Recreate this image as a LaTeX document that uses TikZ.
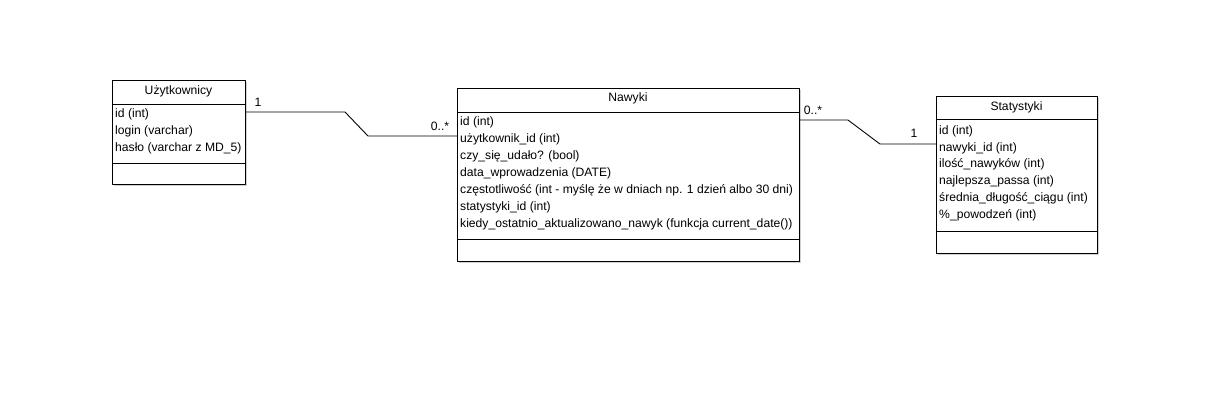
\documentclass[tikz,border=0pt]{standalone}
\usepackage{fontspec}
\setmainfont{Liberation Sans}
\usetikzlibrary{positioning}

\tikzset{
  klasa/.style={draw=black,fill=white,line width=0.9bp,anchor=north west,inner sep=0pt},
  cien/.style={fill=black!18,draw=none,anchor=north west,inner sep=0pt},
  atrybut/.style={anchor=west,inner sep=0pt,font=\fontsize{12.2}{14}\selectfont},
  naglowek/.style={inner sep=0pt,font=\fontsize{12.2}{14}\selectfont},
  krotnosc/.style={inner sep=0pt,font=\fontsize{12.2}{14}\selectfont},
}

\begin{document}
\begin{tikzpicture}[x=1bp,y=-1bp,line join=bevel]
\useasboundingbox (0,0) rectangle (1210,405);
%%
\node (cien_uz) at (114,82) [cien,minimum width=133bp,minimum height=104bp] {};
\node (uzytkownicy) at (112,80) [klasa,minimum width=133bp,minimum height=104bp] {};
\draw [black,line width=0.9bp] (112,104) -- (245,104);
\draw [black,line width=0.9bp] (112,163) -- (245,163);
\node (uz_nazwa) at (178.5,91) [naglowek] {Użytkownicy};
\node (uz_1) at (115,114) [atrybut] {id (int)};
\node (uz_2) at (115,131) [atrybut] {login (varchar)};
\node (uz_3) at (115,148) [atrybut] {hasło (varchar z MD\_5)};
%
\node (cien_na) at (459,90) [cien,minimum width=342bp,minimum height=173bp] {};
\node (nawyki) at (457,88) [klasa,minimum width=342bp,minimum height=173bp] {};
\draw [black,line width=0.9bp] (457,112) -- (799,112);
\draw [black,line width=0.9bp] (457,239) -- (799,239);
\node (na_nazwa) at (628,98) [naglowek] {Nawyki};
\node (na_1) at (460,122) [atrybut] {id (int)};
\node (na_2) at (460,139) [atrybut] {użytkownik\_id (int)};
\node (na_3) at (460,156) [atrybut] {czy\_się\_udało? (bool)};
\node (na_4) at (460,173) [atrybut] {data\_wprowadzenia (DATE)};
\node (na_5) at (460,190) [atrybut] {częstotliwość (int - myślę że w dniach np. 1 dzień albo 30 dni)};
\node (na_6) at (460,207) [atrybut] {statystyki\_id (int)};
\node (na_7) at (460,224) [atrybut] {kiedy\_ostatnio\_aktualizowano\_nawyk (funkcja current\_date())};
%
\node (cien_st) at (938,98) [cien,minimum width=161bp,minimum height=157bp] {};
\node (statystyki) at (936,96) [klasa,minimum width=161bp,minimum height=157bp] {};
\draw [black,line width=0.9bp] (936,119) -- (1097,119);
\draw [black,line width=0.9bp] (936,231) -- (1097,231);
\node (st_nazwa) at (1016.5,107) [naglowek] {Statystyki};
\node (st_1) at (939,131) [atrybut] {id (int)};
\node (st_2) at (939,148) [atrybut] {nawyki\_id (int)};
\node (st_3) at (939,164) [atrybut] {ilość\_nawyków (int)};
\node (st_4) at (939,181) [atrybut] {najlepsza\_passa (int)};
\node (st_5) at (939,198) [atrybut] {średnia\_długość\_ciągu (int)};
\node (st_6) at (939,215) [atrybut] {\%\_powodzeń (int)};
%%
\coordinate (uz_wyj) at (245,112);
\coordinate (na_wej) at (457,136);
\coordinate (na_wyj) at (799,120);
\coordinate (st_wej) at (936,144);
\draw [black,line width=0.9bp] (uz_wyj) -- (345,112) -- (368,136) -- (na_wej);
\draw [black,line width=0.9bp] (na_wyj) -- (848,120) -- (880,144) -- (st_wej);
\node (k_uz) at (258,102) [krotnosc] {1};
\node (k_na_l) at (440,126) [krotnosc] {0..*};
\node (k_na_r) at (813,110) [krotnosc] {0..*};
\node (k_st) at (914,133) [krotnosc] {1};
%
\end{tikzpicture}
\end{document}
